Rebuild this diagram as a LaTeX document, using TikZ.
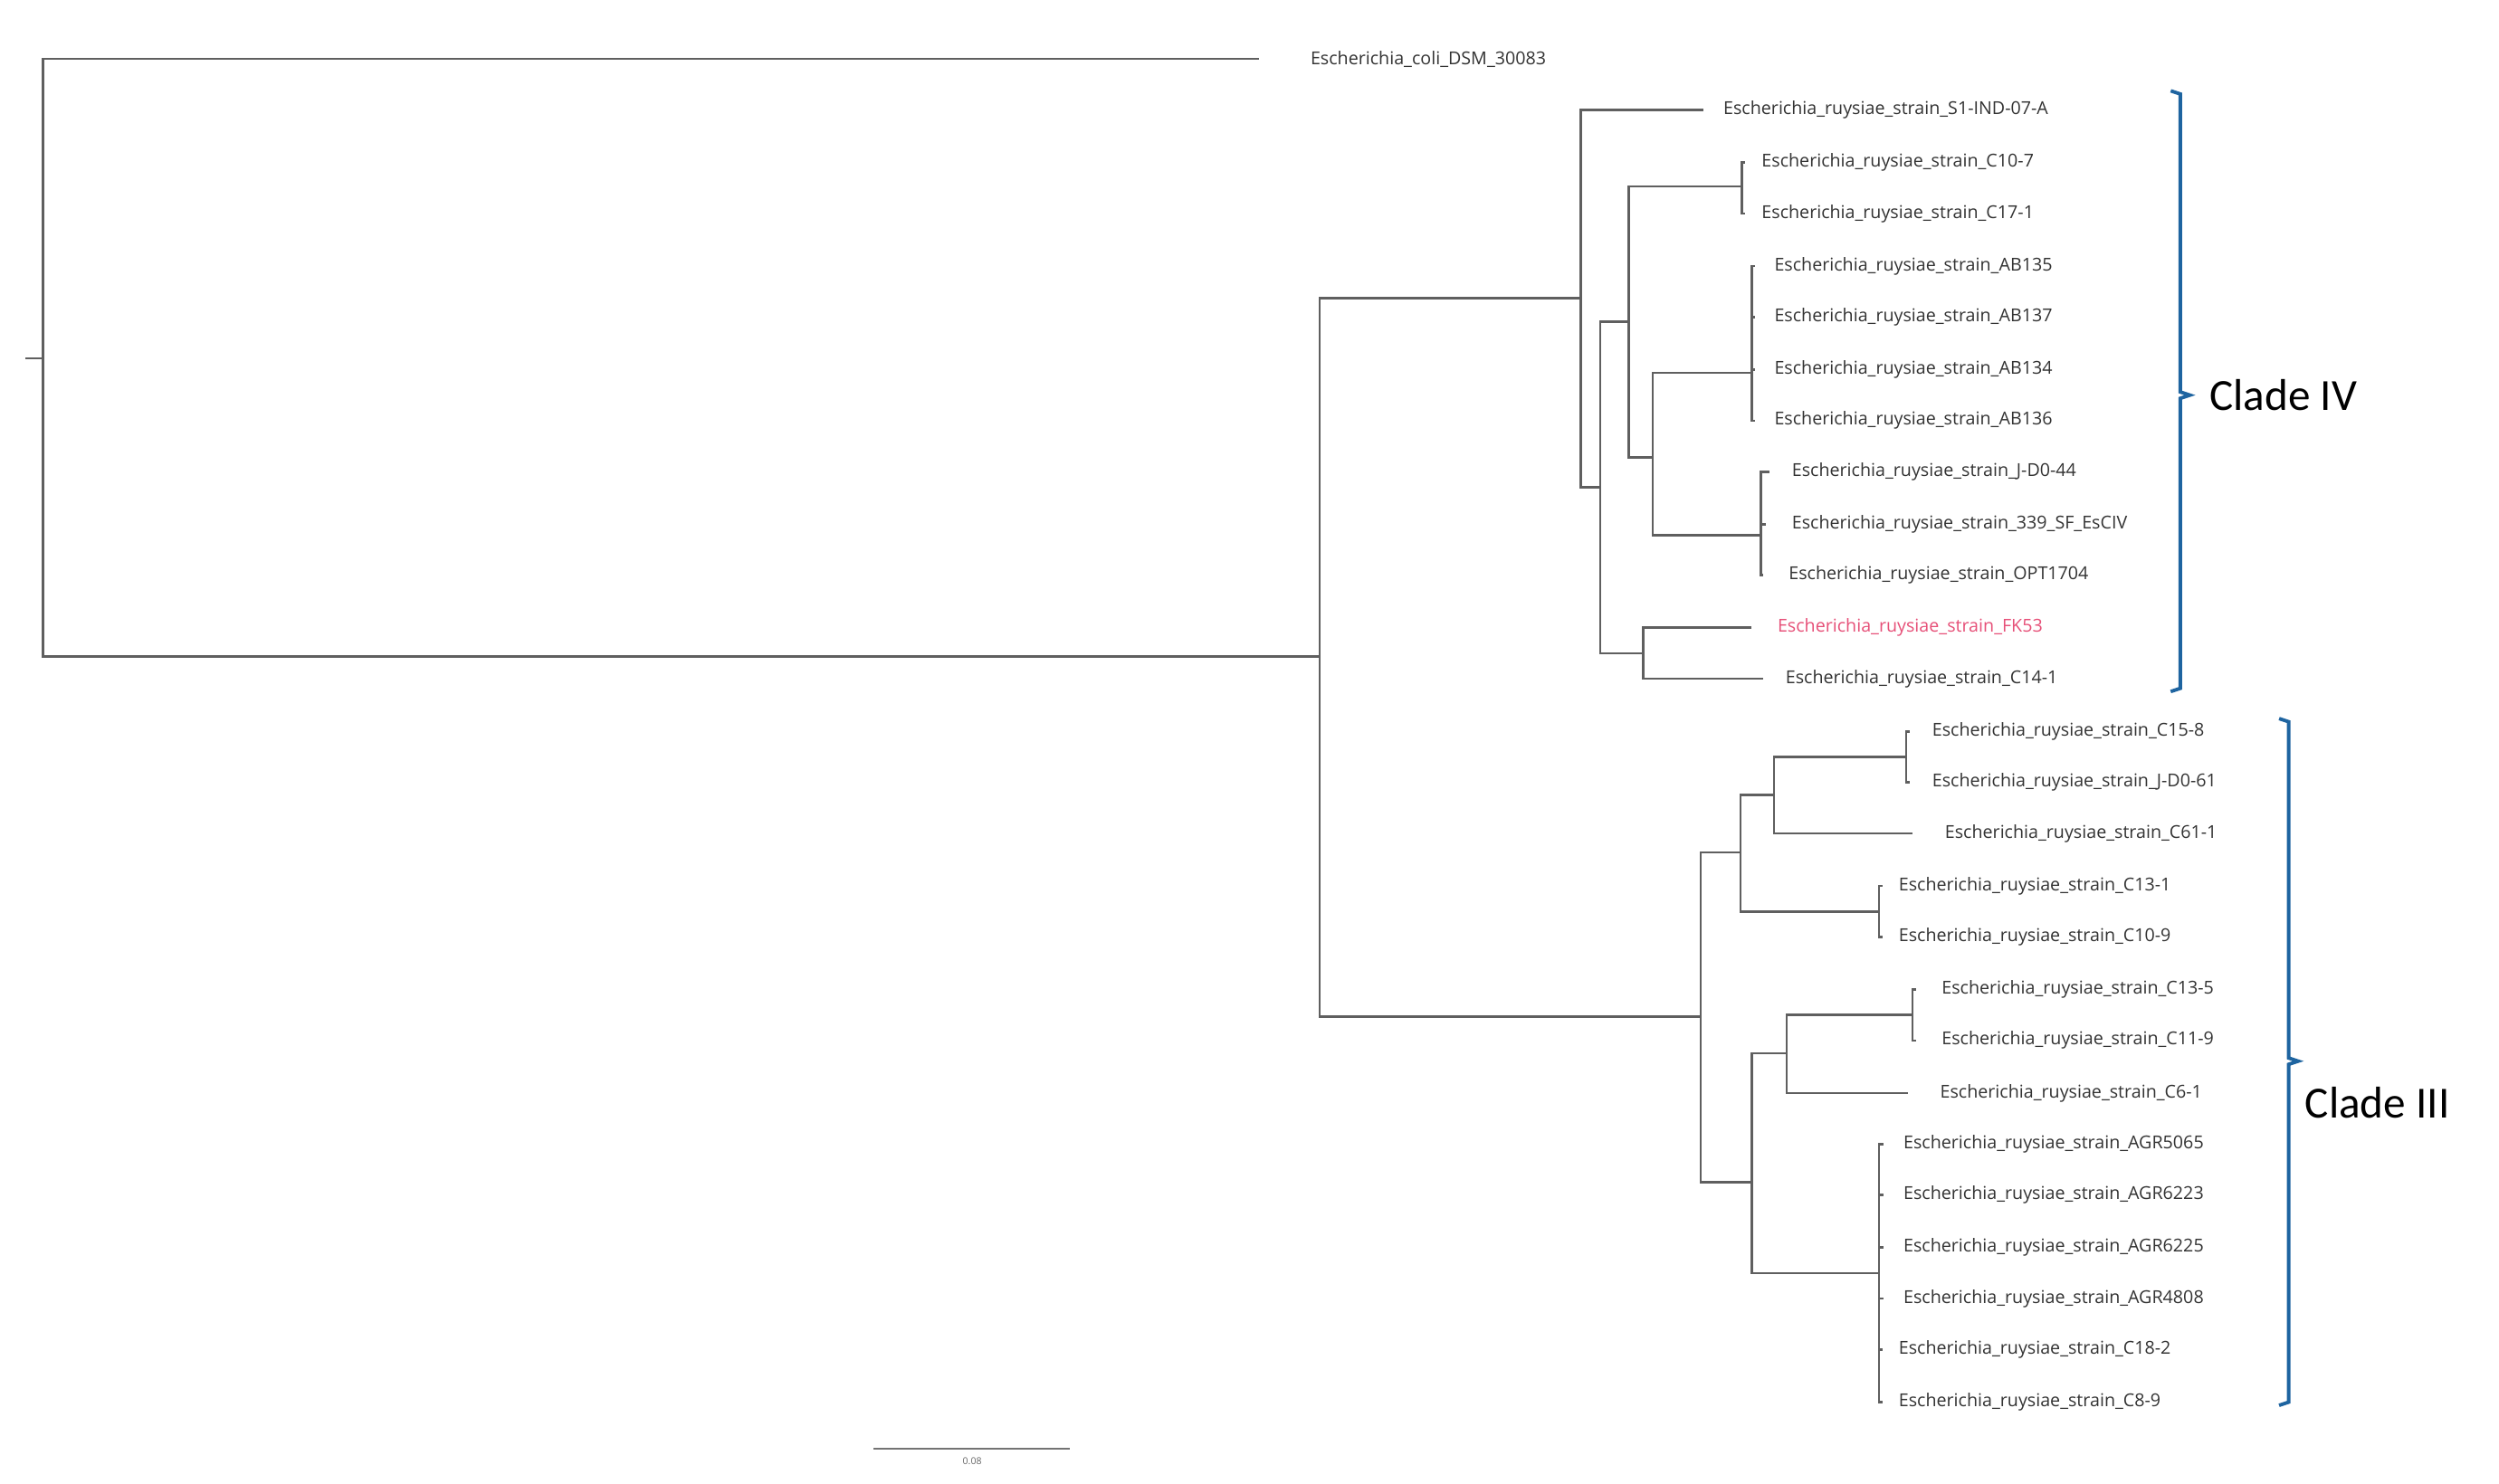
\documentclass[tikz,border=0pt]{standalone}
\usepackage{fontspec}
\setmainfont{Open Sans}
\newfontfamily\cladefont{Carlito}
\definecolor{br}{RGB}{95,95,95}
\definecolor{cblue}{RGB}{30,100,160}
\definecolor{pinklab}{RGB}{230,80,120}
\tikzset{
 br/.style={draw=br,line width=0.75pt},
 leaf/.style={anchor=west,inner sep=1pt,font=\fontsize{5.6}{6}\selectfont,text=black!80},
 cladebr/.style={draw=cblue,line width=1.1pt},
 cladelab/.style={anchor=west,font=\cladefont\fontsize{14}{16}\selectfont,inner sep=0pt}
}
\begin{document}
\begin{tikzpicture}[x=0.01761cm,y=-0.01761cm]
\useasboundingbox (0,0) rectangle (1568,931);
% internal nodes
\coordinate (stub) at (16,225);
\coordinate (root) at (27,225);
\coordinate (main) at (828,412);
\coordinate (cIV) at (992,187);
\coordinate (nC) at (1004,306);
\coordinate (nB) at (1022,202);
\coordinate (nP) at (1093,117);
\coordinate (nD) at (1037,287);
\coordinate (nAB) at (1099,234);
\coordinate (nE) at (1105,336);
\coordinate (nF) at (1031,410);
\coordinate (cIII) at (1067,638);
\coordinate (nG) at (1092,535);
\coordinate (nH) at (1113,499);
\coordinate (nR) at (1196,475);
\coordinate (nQ) at (1179,572);
\coordinate (nI) at (1099,742);
\coordinate (nJ) at (1121,661);
\coordinate (nS) at (1200,637);
\coordinate (nAGR) at (1179,799);
% leaf ends
\coordinate (lEc) at (790,37);
\coordinate (lS1) at (1069,69);
\coordinate (l107) at (1095,102);
\coordinate (l171) at (1095,134);
\coordinate (lAB5) at (1101,167);
\coordinate (lAB7) at (1101,199);
\coordinate (lAB4) at (1101,232);
\coordinate (lAB6) at (1101,264);
\coordinate (lJ44) at (1110,296);
\coordinate (l339) at (1108,329);
\coordinate (lOPT) at (1106,361);
\coordinate (lFK) at (1099,394);
\coordinate (l141) at (1106,426);
\coordinate (l158) at (1198,459);
\coordinate (lJ61) at (1198,491);
\coordinate (l611) at (1200,523);
\coordinate (l131) at (1181,556);
\coordinate (l109) at (1181,588);
\coordinate (l135) at (1202,621);
\coordinate (l119) at (1202,653);
\coordinate (l61) at (1197,686);
\coordinate (lA1) at (1182,718);
\coordinate (lA2) at (1182,750);
\coordinate (lA3) at (1182,783);
\coordinate (lA4) at (1182,815);
\coordinate (lA5) at (1181,847);
\coordinate (lA6) at (1181,880);
% branches
\path[br] (stub) -- (root);
\path[br] (root) |- (lEc) (root) |- (main);
\path[br] (main) |- (cIV) (main) |- (cIII);
\path[br] (cIV) |- (lS1) (cIV) |- (nC);
\path[br] (nC) |- (nB) (nC) |- (nF);
\path[br] (nB) |- (nP) (nB) |- (nD);
\path[br] (nP) |- (l107) (nP) |- (l171);
\path[br] (nD) |- (nAB) (nD) |- (nE);
\path[br] (nAB) |- (lAB5) (nAB) |- (lAB7) (nAB) |- (lAB4) (nAB) |- (lAB6);
\path[br] (nE) |- (lJ44) (nE) |- (l339) (nE) |- (lOPT);
\path[br] (nF) |- (lFK) (nF) |- (l141);
\path[br] (cIII) |- (nG) (cIII) |- (nI);
\path[br] (nG) |- (nH) (nG) |- (nQ);
\path[br] (nH) |- (nR) (nH) |- (l611);
\path[br] (nR) |- (l158) (nR) |- (lJ61);
\path[br] (nQ) |- (l131) (nQ) |- (l109);
\path[br] (nI) |- (nJ) (nI) |- (nAGR);
\path[br] (nJ) |- (nS) (nJ) |- (l61);
\path[br] (nS) |- (l135) (nS) |- (l119);
\path[br] (nAGR) |- (lA1) (nAGR) |- (lA2) (nAGR) |- (lA3) (nAGR) |- (lA4) (nAGR) |- (lA5) (nAGR) |- (lA6);
% labels
\node[leaf] (tEc) at ([xshift=15]lEc) {Escherichia\_coli\_DSM\_30083};
\node[leaf] (tS1) at ([xshift=5]lS1) {Escherichia\_ruysiae\_strain\_S1-IND-07-A};
\node[leaf] (t107) at ([xshift=4]l107) {Escherichia\_ruysiae\_strain\_C10-7};
\node[leaf] (t171) at ([xshift=4]l171) {Escherichia\_ruysiae\_strain\_C17-1};
\node[leaf] (tAB5) at ([xshift=5]lAB5) {Escherichia\_ruysiae\_strain\_AB135};
\node[leaf] (tAB7) at ([xshift=5]lAB7) {Escherichia\_ruysiae\_strain\_AB137};
\node[leaf] (tAB4) at ([xshift=5]lAB4) {Escherichia\_ruysiae\_strain\_AB134};
\node[leaf] (tAB6) at ([xshift=5]lAB6) {Escherichia\_ruysiae\_strain\_AB136};
\node[leaf] (tJ44) at ([xshift=6]lJ44) {Escherichia\_ruysiae\_strain\_J-D0-44};
\node[leaf] (t339) at ([xshift=7]l339) {Escherichia\_ruysiae\_strain\_339\_SF\_EsCIV};
\node[leaf] (tOPT) at ([xshift=7]lOPT) {Escherichia\_ruysiae\_strain\_OPT1704};
\node[leaf,text=pinklab] (tFK) at ([xshift=7]lFK) {Escherichia\_ruysiae\_strain\_FK53};
\node[leaf] (t141) at ([xshift=6]l141) {Escherichia\_ruysiae\_strain\_C14-1};
\node[leaf] (t158) at ([xshift=6]l158) {Escherichia\_ruysiae\_strain\_C15-8};
\node[leaf] (tJ61) at ([xshift=6]lJ61) {Escherichia\_ruysiae\_strain\_J-D0-61};
\node[leaf] (t611) at ([xshift=9]l611) {Escherichia\_ruysiae\_strain\_C61-1};
\node[leaf] (t131) at ([xshift=4]l131) {Escherichia\_ruysiae\_strain\_C13-1};
\node[leaf] (t109) at ([xshift=4]l109) {Escherichia\_ruysiae\_strain\_C10-9};
\node[leaf] (t135) at ([xshift=7]l135) {Escherichia\_ruysiae\_strain\_C13-5};
\node[leaf] (t119) at ([xshift=7]l119) {Escherichia\_ruysiae\_strain\_C11-9};
\node[leaf] (t61) at ([xshift=9]l61) {Escherichia\_ruysiae\_strain\_C6-1};
\node[leaf] (tA1) at ([xshift=5]lA1) {Escherichia\_ruysiae\_strain\_AGR5065};
\node[leaf] (tA2) at ([xshift=5]lA2) {Escherichia\_ruysiae\_strain\_AGR6223};
\node[leaf] (tA3) at ([xshift=5]lA3) {Escherichia\_ruysiae\_strain\_AGR6225};
\node[leaf] (tA4) at ([xshift=5]lA4) {Escherichia\_ruysiae\_strain\_AGR4808};
\node[leaf] (tA5) at ([xshift=4]lA5) {Escherichia\_ruysiae\_strain\_C18-2};
\node[leaf] (tA6) at ([xshift=4]lA6) {Escherichia\_ruysiae\_strain\_C8-9};
% clade brackets
\path[cladebr] (1362,57) -- (1368,59) -- (1368,246) -- (1374,248) -- (1368,250) -- (1368,432) -- (1362,434);
\node[cladelab] (cl4) at (1386,248) {Clade IV};
\path[cladebr] (1430,451) -- (1436,453) -- (1436,664) -- (1442,666) -- (1436,668) -- (1436,880) -- (1430,882);
\node[cladelab] (cl3) at (1446,692) {Clade III};
% scale bar
\coordinate (sb1) at (548,909);
\coordinate (sb2) at (671,909);
\path[draw=black!55,line width=0.6pt] (sb1) -- (sb2);
\node[font=\fontsize{3}{4}\selectfont,text=black!60,inner sep=0pt] (sbl) at (610,917) {0.08};
\end{tikzpicture}
\end{document}
